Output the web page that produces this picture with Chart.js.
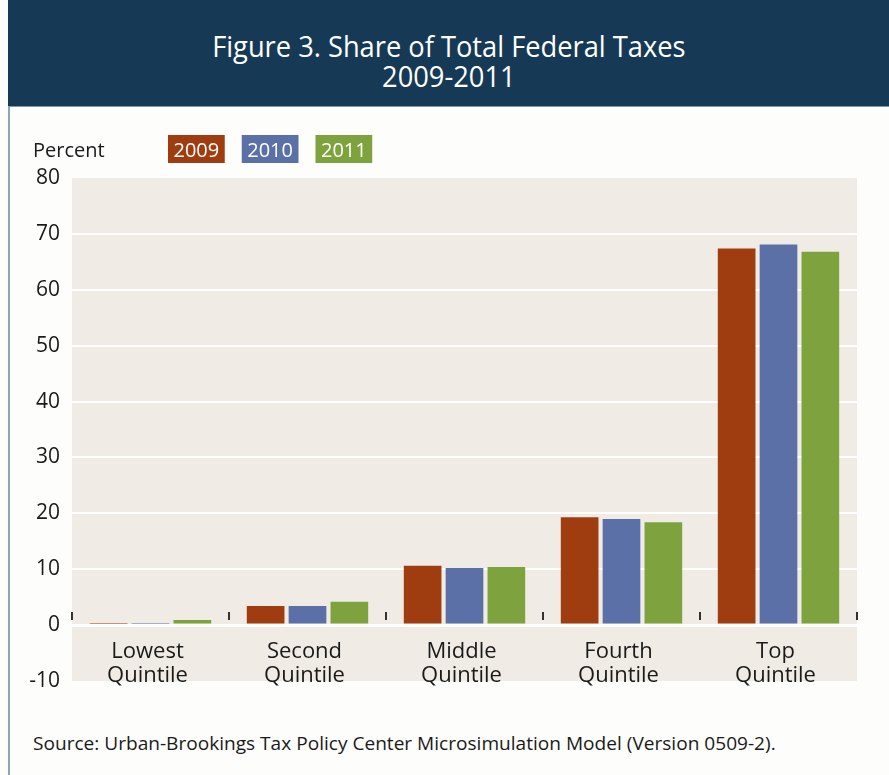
<!DOCTYPE html>
<html>
<head>
<meta charset="utf-8">
<script src="https://cdn.jsdelivr.net/npm/chart.js@4"></script>
<style>
  html, body { margin: 0; padding: 0; background: #fdfdfc; }
  body { width: 889px; height: 775px; position: relative; overflow: hidden; font-family: "Open Sans", sans-serif; }
  #leftline { position: absolute; left: 8px; top: 0; width: 2px; height: 775px; background: #8ea3b4; }
  #header { position: absolute; left: 8px; top: 0; width: 881px; height: 106px; background: #163a56; border-bottom: 1px solid #7f98ab; }
  #header div { position: absolute; left: 0; width: 100%; text-align: center; color: #fff; font-size: 29px; transform: scaleX(0.94); transform-origin: 446px 0; }
  #wrap { position: absolute; left: 0; top: 105px; width: 889px; height: 605px; }
  #source { position: absolute; left: 33px; top: 731px; font-size: 18px; color: #1a1a1a; white-space: nowrap; transform: scaleX(1.06); transform-origin: 0 0; }
</style>
</head>
<body>
<div id="leftline"></div>
<div id="header">
  <div style="top:26px">Figure 3. Share of Total Federal Taxes</div>
  <div style="top:56px">2009-2011</div>
</div>
<div id="wrap"><canvas id="myChart"></canvas></div>
<div id="source">Source: Urban-Brookings Tax Policy Center Microsimulation Model (Version 0509-2).</div>
<script>
document.addEventListener('DOMContentLoaded', function() {
    const ctx = document.getElementById('myChart').getContext('2d');

    const categories = [['Lowest', 'Quintile'], ['Second', 'Quintile'], ['Middle', 'Quintile'], ['Fourth', 'Quintile'], ['Top', 'Quintile']];
    const years = ['2009', '2010', '2011'];
    const values2009 = [0.4, 3.4, 10.6, 19.3, 67.4];
    const values2010 = [0.2, 3.4, 10.2, 19.0, 68.1];
    const values2011 = [0.9, 4.2, 10.4, 18.4, 66.8];
    const yMin = -10;
    const yMax = 80;
    const yStep = 10;

    const colors = ['#9f3c10', '#5a70a6', '#7ea33e'];
    const font = '"Open Sans", sans-serif';

    // beige plot area
    const plotBg = {
        id: 'plotBg',
        beforeDraw(chart) {
            const a = chart.chartArea;
            const c = chart.ctx;
            c.save();
            c.fillStyle = '#f0ece5';
            c.fillRect(a.left, a.top, a.right - a.left, a.bottom - a.top);
            c.restore();
        }
    };

    // "Percent" label and the coloured year boxes
    const topLegend = {
        id: 'topLegend',
        afterDraw(chart) {
            const c = chart.ctx;
            c.save();
            c.font = '20px ' + font;
            c.textBaseline = 'alphabetic';
            c.fillStyle = '#1a1a1a';
            c.fillText('Percent', 33, 52);
            let x = 168;
            chart.data.datasets.forEach(function(ds) {
                const w = c.measureText(ds.label).width + 11;
                c.fillStyle = ds.backgroundColor;
                c.fillRect(x, 30, w, 28);
                c.fillStyle = '#ffffff';
                c.fillText(ds.label, x + 5.5, 52);
                x += w + 17;
            });
            c.restore();
        }
    };

    // category labels inside the plot and small separator marks
    const catLabels = {
        id: 'catLabels',
        afterDatasetsDraw(chart) {
            const c = chart.ctx;
            const xs = chart.scales.x;
            const ys = chart.scales.y;
            const zero = ys.getPixelForValue(0);
            const step = (chart.chartArea.right - chart.chartArea.left) / categories.length;
            c.save();
            c.strokeStyle = '#333';
            c.lineWidth = 2;
            for (let i = 0; i <= categories.length; i++) {
                const x = Math.round(chart.chartArea.left + i * step);
                c.beginPath();
                c.moveTo(x, zero - 13);
                c.lineTo(x, zero - 5);
                c.stroke();
            }
            c.font = '22px ' + font;
            c.fillStyle = '#1a1a1a';
            c.textAlign = 'center';
            c.textBaseline = 'alphabetic';
            categories.forEach(function(lines, i) {
                const x = xs.getPixelForValue(i) - 3;
                lines.forEach(function(t, j) {
                    c.fillText(t, x, zero + 33 + j * 24);
                });
            });
            c.restore();
        }
    };

    const data = {
        labels: categories,
        datasets: [
            { label: years[0], data: values2009, backgroundColor: colors[0] },
            { label: years[1], data: values2010, backgroundColor: colors[1] },
            { label: years[2], data: values2011, backgroundColor: colors[2] }
        ]
    };

    const config = {
        type: 'bar',
        data: data,
        options: {
            responsive: true,
            maintainAspectRatio: false,
            animation: false,
            layout: { padding: { top: 73, bottom: 29, left: 0, right: 32 } },
            datasets: {
                bar: { categoryPercentage: 0.8, barPercentage: 0.9, borderWidth: 0 }
            },
            plugins: {
                legend: { display: false },
                tooltip: { enabled: false }
            },
            scales: {
                x: { display: false },
                y: {
                    min: yMin,
                    max: yMax,
                    afterFit: function(scale) { scale.width = 72; },
                    border: { display: false },
                    grid: {
                        drawTicks: false,
                        lineWidth: function(c) { return c.tick && c.tick.value === 0 ? 3 : 2; },
                        color: function(c) {
                            if (!c.tick || c.tick.value === yMin || c.tick.value === yMax) return 'rgba(0,0,0,0)';
                            return '#ffffff';
                        }
                    },
                    ticks: {
                        stepSize: yStep,
                        padding: 12,
                        color: '#1a1a1a',
                        font: { family: font, size: 21 }
                    }
                }
            }
        },
        plugins: [plotBg, topLegend, catLabels]
    };

    new Chart(ctx, config);
});
</script>
</body>
</html>
